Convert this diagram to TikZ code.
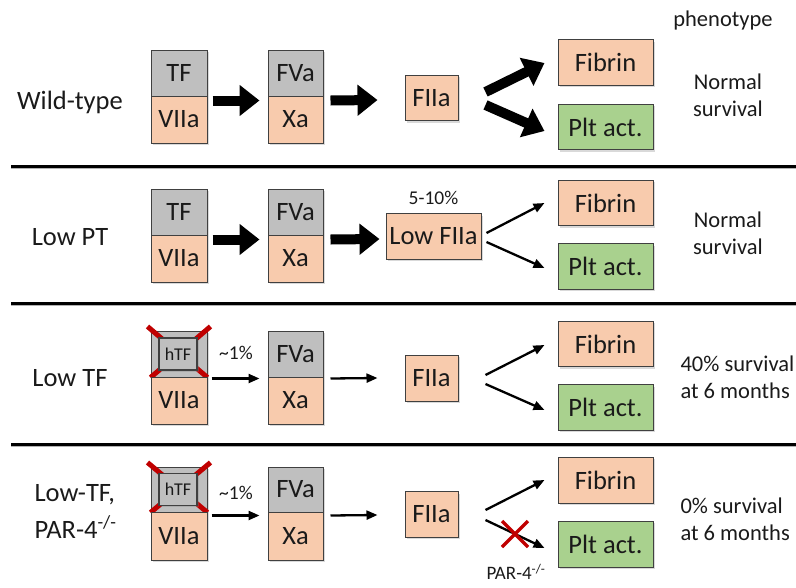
\documentclass[tikz,border=0pt]{standalone}
\usepackage{fontspec}
\setmainfont{Carlito}
\usetikzlibrary{arrows.meta,shadows}
\definecolor{boxgray}{HTML}{BFBFBF}
\definecolor{salmon}{HTML}{F8CBAD}
\definecolor{pltgreen}{HTML}{A9D18E}
\definecolor{edge}{HTML}{404040}
\definecolor{xred}{HTML}{C00000}
\definecolor{txt}{HTML}{1A1A1A}
\begin{document}
\begin{tikzpicture}[x=1pt,y=-1pt,
  bx/.style={draw=edge,line width=1pt,inner sep=0pt,text=txt,
    font=\fontsize{26.5}{30}\selectfont,
    drop shadow={shadow xshift=2pt,shadow yshift=-2pt,opacity=0.3}},
  graybox/.style={bx,fill=boxgray},
  salbox/.style={bx,fill=salmon},
  grnbox/.style={bx,fill=pltgreen},
  smallbox/.style={minimum width=56pt,minimum height=46pt},
  widebox/.style={minimum width=95pt,minimum height=45.5pt},
  fbox/.style={minimum width=53pt,minimum height=45.5pt},
  htfbox/.style={draw=edge,line width=1.2pt,fill=boxgray,inner sep=0pt,
    minimum width=38pt,minimum height=32pt,text=txt,
    font=\fontsize{18}{20}\selectfont,
    drop shadow={shadow xshift=1.5pt,shadow yshift=-1.5pt,opacity=0.3}},
  bigarrow/.style={line width=10pt,-{Triangle[width=30pt,length=20pt]}},
  thinarrow/.style={line width=2.3pt,-{Triangle[width=9pt,length=11pt]}},
  lbl/.style={text=txt,font=\fontsize{26.5}{37}\selectfont},
  phen/.style={text=txt,font=\fontsize{22.5}{27}\selectfont},
  pct/.style={text=txt,font=\fontsize{19.5}{22}\selectfont},
  sep/.style={line width=3pt,black},
  crossline/.style={xred,line width=5pt}]
\useasboundingbox (0,0) rectangle (796,587);

% separators
\foreach \yy in {166,303,444}{
  \draw[gray!60,line width=2pt] (11,\yy+2) -- (796,\yy+2);
  \draw[sep] (11,\yy) -- (796,\yy);
}

% header
\node[phen] (phenotype) at (723,20) {phenotype};

% ---------------- Row 1 ----------------
\node[lbl] (lab1) at (70,102) {Wild-type};
\node[graybox,smallbox] (tf1) at (179,73) {TF};
\node[salbox,smallbox,minimum height=47pt] (vii1) at (179,119.5) {VIIa};
\node[graybox,smallbox,minimum width=55pt] (fva1) at (295.5,73) {FVa};
\node[salbox,smallbox,minimum width=55pt,minimum height=47pt] (xa1) at (295.5,119.5) {Xa};
\node[salbox,fbox] (f2a1) at (431.5,98) {FIIa};
\node[salbox,widebox] (fib1) at (605.5,62.5) {Fibrin};
\node[grnbox,widebox] (plt1) at (605.5,127) {Plt act.};
\node[phen,align=center] (ph1) at (728,95) {Normal\\survival};
\draw[bigarrow] ([shift={(5,4)}]tf1.south east) -- ([shift={(-8,4)}]fva1.south west);
\draw[bigarrow] ([shift={(7,4)}]fva1.south east) -- ([shift={(-27,2)}]f2a1.west);
\draw[bigarrow] ([shift={(27,-6)}]f2a1.east) -- ([shift={(-13,0.5)}]fib1.west);
\draw[bigarrow] ([shift={(27,7)}]f2a1.east) -- ([shift={(-13,4)}]plt1.west);

% ---------------- Row 2 ----------------
\node[lbl] (lab2) at (70,237) {Low PT};
\node[graybox,smallbox] (tf2) at (179,212) {TF};
\node[salbox,smallbox,minimum height=47pt] (vii2) at (179,258.5) {VIIa};
\node[graybox,smallbox,minimum width=55pt] (fva2) at (295.5,212) {FVa};
\node[salbox,smallbox,minimum width=55pt,minimum height=47pt] (xa2) at (295.5,258.5) {Xa};
\node[salbox,widebox] (lowf2) at (433.5,236.5) {Low FIIa};
\node[pct] (pct2) at (433.5,198) {5-10\%};
\node[salbox,widebox] (fib2) at (605.5,203) {Fibrin};
\node[grnbox,widebox] (plt2) at (605.5,266.5) {Plt act.};
\node[phen,align=center] (ph2) at (728,233) {Normal\\survival};
\draw[bigarrow] ([shift={(5,4)}]tf2.south east) -- ([shift={(-8,4)}]fva2.south west);
\draw[bigarrow] ([shift={(7,4)}]fva2.south east) -- ([shift={(-6,2.5)}]lowf2.west);
\draw[thinarrow] ([shift={(5,-3.5)}]lowf2.east) -- ([shift={(-13,0)}]fib2.west);
\draw[thinarrow] ([shift={(5,5.5)}]lowf2.east) -- ([shift={(-13,1.5)}]plt2.west);

% ---------------- Row 3 ----------------
\node[lbl] (lab3) at (70,378) {Low TF};
\node[graybox,smallbox] (tf3) at (179,354) {};
\draw[crossline] ([shift={(-3,-4)}]tf3.north west) -- (tf3.south east);
\draw[crossline] ([shift={(3,-4)}]tf3.north east) -- (tf3.south west);
\node[htfbox] (htf3) at (178,354) {hTF};
\node[salbox,smallbox,minimum height=47pt] (vii3) at (179,400.5) {VIIa};
\node[graybox,smallbox,minimum width=55pt] (fva3) at (295.5,354) {FVa};
\node[salbox,smallbox,minimum width=55pt,minimum height=47pt] (xa3) at (295.5,400.5) {Xa};
\node[salbox,fbox,minimum height=46pt] (f2a3) at (431.5,378) {FIIa};
\node[salbox,widebox] (fib3) at (605.5,344) {Fibrin};
\node[grnbox,widebox] (plt3) at (605.5,407.5) {Plt act.};
\node[pct] (pct3) at (236,353) {\textasciitilde 1\%};
\node[phen,align=left,anchor=west] (ph3) at (677,377.5) {40\% survival\\at 6 months};
\draw[thinarrow] ([shift={(4,1)}]tf3.south east) -- ([shift={(-8,1)}]fva3.south west);
\draw[thinarrow] ([shift={(7,1)}]fva3.south east) -- ([shift={(-27,0)}]f2a3.west);
\draw[thinarrow] ([shift={(27,-3)}]f2a3.east) -- ([shift={(-13,1)}]fib3.west);
\draw[thinarrow] ([shift={(27,6)}]f2a3.east) -- ([shift={(-13,2.5)}]plt3.west);

% ---------------- Row 4 ----------------
\node[lbl,align=left,anchor=west] (lab4) at (31,511) {Low-TF,\\PAR-4\textsuperscript{-/-}};
\node[graybox,smallbox,minimum height=45pt] (tf4) at (179,489.5) {};
\draw[crossline] ([shift={(-3,-4)}]tf4.north west) -- (tf4.south east);
\draw[crossline] ([shift={(3,-4)}]tf4.north east) -- (tf4.south west);
\node[htfbox] (htf4) at (178,489.5) {hTF};
\node[salbox,smallbox,minimum height=48pt] (vii4) at (179,536) {VIIa};
\node[graybox,smallbox,minimum width=55pt,minimum height=45pt] (fva4) at (295.5,489.5) {FVa};
\node[salbox,smallbox,minimum width=55pt,minimum height=48pt] (xa4) at (295.5,536) {Xa};
\node[salbox,fbox] (f2a4) at (431.5,514.5) {FIIa};
\node[salbox,widebox,minimum height=46pt] (fib4) at (605.5,480) {Fibrin};
\node[grnbox,widebox,minimum height=46pt] (plt4) at (605.5,544) {Plt act.};
\node[pct] (pct4) at (236,493) {\textasciitilde 1\%};
\node[phen,align=left,anchor=west] (ph4) at (677,519.5) {0\% survival\\at 6 months};
\node[pct,font=\fontsize{19}{21}\selectfont,inner sep=1pt] (par4) at (516,572) {PAR-4\textsuperscript{-/-}};
\draw[thinarrow] ([shift={(4,3)}]tf4.south east) -- ([shift={(-8,3)}]fva4.south west);
\draw[thinarrow] ([shift={(7,3)}]fva4.south east) -- ([shift={(-27,0.5)}]f2a4.west);
\draw[thinarrow] ([shift={(27,-4.5)}]f2a4.east) -- ([shift={(-13,0)}]fib4.west);
\draw[thinarrow] ([shift={(27,5.5)}]f2a4.east) -- coordinate[pos=0.5] (xc) ([shift={(-13,4)}]plt4.west);
\draw[xred,line width=3.5pt] ([shift={(-13,-13)}]xc) -- ([shift={(13,13)}]xc);
\draw[xred,line width=3.5pt] ([shift={(13,-13)}]xc) -- ([shift={(-13,13)}]xc);
\end{tikzpicture}
\end{document}
